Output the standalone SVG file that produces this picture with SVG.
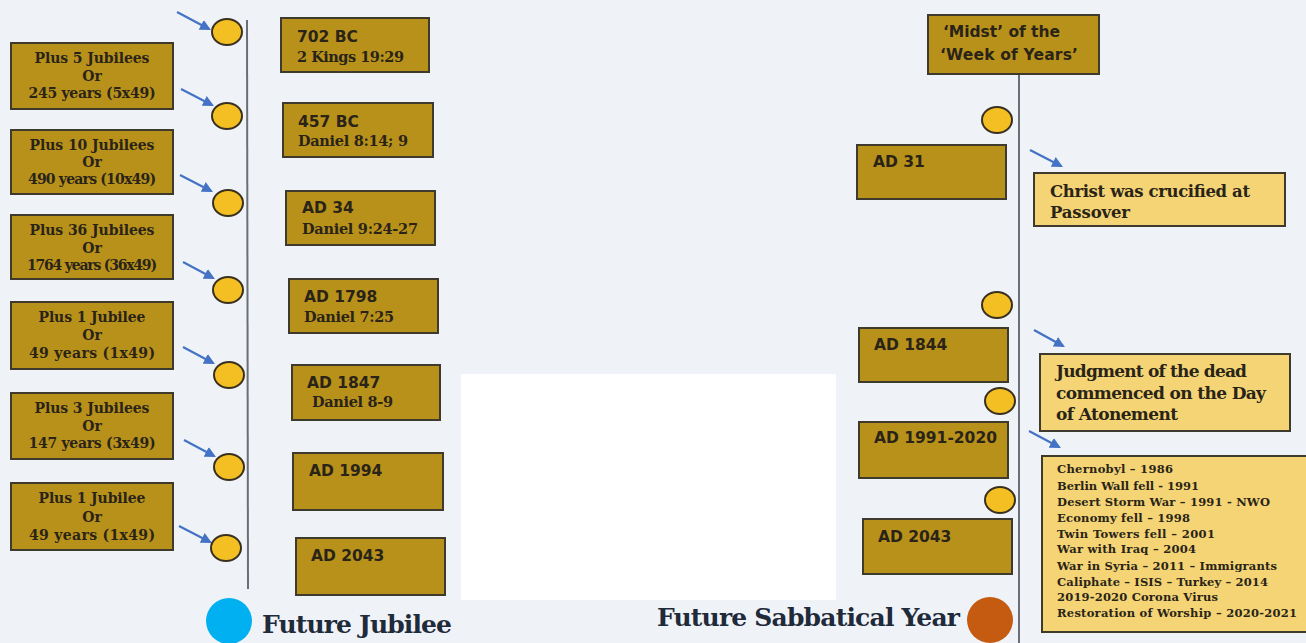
<svg xmlns="http://www.w3.org/2000/svg" width="1306" height="643" viewBox="0 0 1306 643">
<style>
.bg{fill:#eff3f8}
.box{fill:#b8911b;stroke:#3e3a2e;stroke-width:2}
.lbox{fill:#f4d474;stroke:#3e3a2e;stroke-width:2}
.dot{fill:#f4bf22;stroke:#3a3020;stroke-width:2}
.ser{font-family:"DejaVu Serif","Liberation Serif",serif;font-weight:bold;fill:#2a2418}
.san{font-family:"DejaVu Sans","Liberation Sans",sans-serif;font-weight:bold;fill:#2a2418}
.lt{font-size:14px;text-anchor:middle}
.rt{font-size:15.5px}
.rs{font-size:14.5px}
.li{font-size:11.5px}
.leg{font-family:"DejaVu Serif","Liberation Serif",serif;font-weight:bold;fill:#1f2a3a;font-size:25px}
.axis{stroke:#6a6e76;stroke-width:2;fill:none}
.arr{stroke:#4472c4;stroke-width:2.2;fill:none;marker-end:url(#ah)}
</style>
<defs>
<marker id="ah" viewBox="0 0 10 10" refX="8" refY="5" markerWidth="5" markerHeight="5" orient="auto">
<path d="M0,0 L10,5 L0,10 z" fill="#4472c4"/>
</marker>
</defs>
<rect class="bg" x="0" y="0" width="1306" height="643"/>
<rect x="461" y="374" width="375" height="226" fill="#ffffff"/>

<g id="connectors">
<line class="axis" x1="247" y1="20" x2="248" y2="589"/>
<line class="axis" x1="1019" y1="74" x2="1019" y2="643"/>
<line class="arr" x1="177" y1="12" x2="209" y2="29"/>
<line class="arr" x1="181" y1="89" x2="212" y2="105"/>
<line class="arr" x1="180" y1="175" x2="211" y2="191"/>
<line class="arr" x1="183" y1="262" x2="213" y2="278"/>
<line class="arr" x1="183" y1="347" x2="213" y2="363"/>
<line class="arr" x1="184" y1="440" x2="214" y2="456"/>
<line class="arr" x1="179" y1="526" x2="210" y2="542"/>
<line class="arr" x1="1030" y1="150" x2="1061" y2="166"/>
<line class="arr" x1="1034" y1="330" x2="1063" y2="346"/>
<line class="arr" x1="1029" y1="431" x2="1059" y2="447"/>
</g>

<g id="dots">
<ellipse class="dot" cx="227" cy="32" rx="15" ry="13"/>
<ellipse class="dot" cx="227" cy="116" rx="15" ry="13"/>
<ellipse class="dot" cx="228" cy="203" rx="15" ry="13"/>
<ellipse class="dot" cx="228" cy="290" rx="15" ry="13"/>
<ellipse class="dot" cx="229" cy="375" rx="15" ry="13"/>
<ellipse class="dot" cx="229" cy="467" rx="15" ry="13"/>
<ellipse class="dot" cx="226" cy="548" rx="15" ry="13"/>
<ellipse class="dot" cx="997" cy="120" rx="15" ry="13"/>
<ellipse class="dot" cx="997" cy="305" rx="15" ry="13"/>
<ellipse class="dot" cx="1000" cy="401" rx="15" ry="13"/>
<ellipse class="dot" cx="1000" cy="500" rx="15" ry="13"/>
</g>

<g id="l1"><rect class="box" x="11" y="43" width="162" height="66"/>
<text class="ser lt" x="92" y="63" textLength="115">Plus 5 Jubilees</text><text class="ser lt" x="92" y="81">Or</text><text class="ser lt" x="92" y="98" textLength="127">245 years (5x49)</text></g>
<g id="l2"><rect class="box" x="11" y="130" width="162" height="64"/>
<text class="ser lt" x="92" y="150" textLength="125">Plus 10 Jubilees</text><text class="ser lt" x="92" y="167">Or</text><text class="ser lt" x="92" y="184" textLength="128">490 years (10x49)</text></g>
<g id="l3"><rect class="box" x="11" y="215" width="162" height="64"/>
<text class="ser lt" x="92" y="235" textLength="125">Plus 36 Jubilees</text><text class="ser lt" x="92" y="253">Or</text><text class="ser lt" x="92" y="270" textLength="130">1764 years (36x49)</text></g>
<g id="l4"><rect class="box" x="11" y="302" width="162" height="67"/>
<text class="ser lt" x="92" y="322" textLength="107">Plus 1 Jubilee</text><text class="ser lt" x="92" y="340">Or</text><text class="ser lt" x="92" y="358" textLength="126">49 years (1x49)</text></g>
<g id="l5"><rect class="box" x="11" y="393" width="162" height="66"/>
<text class="ser lt" x="92" y="413" textLength="115">Plus 3 Jubilees</text><text class="ser lt" x="92" y="431">Or</text><text class="ser lt" x="92" y="448" textLength="127">147 years (3x49)</text></g>
<g id="l6"><rect class="box" x="11" y="483" width="162" height="67"/>
<text class="ser lt" x="92" y="503" textLength="107">Plus 1 Jubilee</text><text class="ser lt" x="92" y="522">Or</text><text class="ser lt" x="92" y="540" textLength="126">49 years (1x49)</text></g>

<g id="r1"><rect class="box" x="281" y="18" width="148" height="54"/>
<text class="san rt" x="297" y="42">702 BC</text><text class="ser rs" x="297" y="62" textLength="107">2 Kings 19:29</text></g>
<g id="r2"><rect class="box" x="283" y="103" width="150" height="54"/>
<text class="san rt" x="298" y="127">457 BC</text><text class="ser rs" x="298" y="146" textLength="110">Daniel 8:14; 9</text></g>
<g id="r3"><rect class="box" x="286" y="191" width="149" height="54"/>
<text class="san rt" x="302" y="213">AD 34</text><text class="ser rs" x="302" y="234" textLength="116">Daniel 9:24-27</text></g>
<g id="r4"><rect class="box" x="289" y="279" width="149" height="54"/>
<text class="san rt" x="304" y="302">AD 1798</text><text class="ser rs" x="304" y="322" textLength="90">Daniel 7:25</text></g>
<g id="r5"><rect class="box" x="292" y="365" width="148" height="55"/>
<text class="san rt" x="307" y="388">AD 1847</text><text class="ser rs" x="312" y="407" textLength="81">Daniel 8-9</text></g>
<g id="r6"><rect class="box" x="293" y="453" width="150" height="57"/>
<text class="san rt" x="309" y="476">AD 1994</text></g>
<g id="r7"><rect class="box" x="296" y="538" width="149" height="57"/>
<text class="san rt" x="311" y="561">AD 2043</text></g>

<g id="midst"><rect class="box" x="928" y="15" width="171" height="59"/>
<text class="san rt" x="943" y="37" textLength="117">‘Midst’ of the</text><text class="san rt" x="940" y="60" textLength="138">‘Week of Years’</text></g>
<g id="ad31"><rect class="box" x="857" y="145" width="149" height="54"/>
<text class="san rt" x="873" y="167">AD 31</text></g>
<g id="christ"><rect class="lbox" x="1034" y="173" width="251" height="53"/>
<text class="ser" font-size="16.5" x="1050" y="197" textLength="200">Christ was crucified at</text><text class="ser" font-size="16.5" x="1050" y="218" textLength="80">Passover</text></g>
<g id="ad1844"><rect class="box" x="859" y="328" width="149" height="54"/>
<text class="san rt" x="874" y="350">AD 1844</text></g>
<g id="judgment"><rect class="lbox" x="1040" y="354" width="250" height="77"/>
<text class="ser" font-size="17" x="1056" y="377" textLength="191">Judgment of the dead</text><text class="ser" font-size="17" x="1056" y="399" textLength="210">commenced on the Day</text><text class="ser" font-size="17" x="1056" y="420" textLength="122">of Atonement</text></g>
<g id="ad1991"><rect class="box" x="859" y="422" width="149" height="56"/>
<text class="san rt" x="874" y="443">AD 1991-2020</text></g>
<g id="ad2043b"><rect class="box" x="863" y="519" width="149" height="55"/>
<text class="san rt" x="878" y="542">AD 2043</text></g>
<g id="events"><rect class="lbox" x="1042" y="456" width="266" height="176"/>
<text class="ser li" x="1057" y="473" textLength="116">Chernobyl – 1986</text>
<text class="ser li" x="1057" y="490" textLength="142">Berlin Wall fell - 1991</text>
<text class="ser li" x="1057" y="506" textLength="213">Desert Storm War – 1991 - NWO</text>
<text class="ser li" x="1057" y="522" textLength="133">Economy fell – 1998</text>
<text class="ser li" x="1057" y="538" textLength="158">Twin Towers fell – 2001</text>
<text class="ser li" x="1057" y="553" textLength="139">War with Iraq – 2004</text>
<text class="ser li" x="1057" y="570" textLength="220">War in Syria – 2011 – Immigrants</text>
<text class="ser li" x="1057" y="586" textLength="211">Caliphate – ISIS – Turkey – 2014</text>
<text class="ser li" x="1057" y="601" textLength="161">2019-2020 Corona Virus</text>
<text class="ser li" x="1057" y="617" textLength="240">Restoration of Worship – 2020-2021</text>
</g>

<g id="legend-jubilee"><circle cx="229" cy="621" r="23" fill="#00b0f0"/>
<text class="leg" x="262" y="633" textLength="190">Future Jubilee</text></g>
<g id="legend-sabbatical"><circle cx="990" cy="620" r="23" fill="#c55a11"/>
<text class="leg" x="657" y="626" textLength="303">Future Sabbatical Year</text></g>
</svg>
